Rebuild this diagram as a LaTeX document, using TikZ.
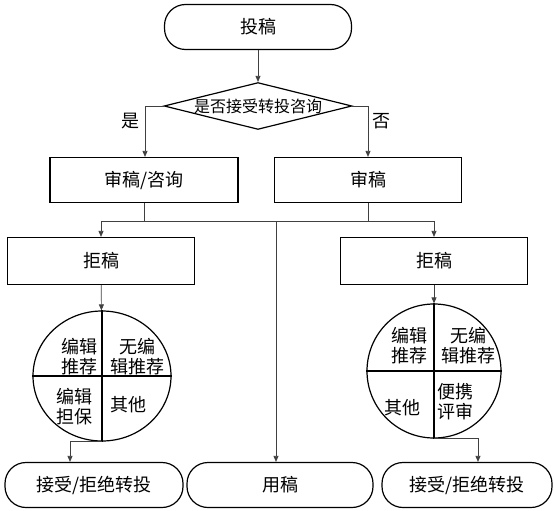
\documentclass[tikz,border=0pt]{standalone}
\usepackage{fontspec}
\newfontfamily\cjk{Noto Sans CJK SC}
\usepackage{tikz}
\usetikzlibrary{arrows.meta,shapes.geometric}

\tikzset{
  every node/.style={font=\cjk\fontsize{18}{20}\selectfont},
  term/.style={draw,line width=1.2pt,rounded corners=21pt,minimum height=45pt},
  procbox/.style={draw,line width=1.2pt,minimum width=187pt,minimum height=45pt},
  decide/.style={draw,line width=1.2pt,diamond,aspect=4,inner sep=0pt,
    font=\cjk\fontsize{16}{18}\selectfont},
  quad/.style={draw,line width=1.2pt,ellipse,inner sep=0pt},
  link/.style={draw=black!75,line width=0.7pt},
  arr/.style={link,-{Triangle[length=6pt,width=5pt]}}
}

\begin{document}
\begin{tikzpicture}[x=1pt,y=-1pt]
\useasboundingbox (0,0) rectangle (554,511);

% start and decision
\node[term,minimum width=187pt] (start) at (258,27) {投稿};
\node[decide] (ask) at (258,106) {是否接受转投咨询};
\node (yes) at (130,121) {是};
\node (no) at (381,121) {否};

% review
\node[procbox,minimum width=188pt] (revL) at (144,180) {审稿/咨询};
\node[procbox] (revR) at (368,180) {审稿};
\coordinate (bus) at (0,221);
\coordinate (mid) at (276,221);

% reject
\node[procbox,minimum height=47pt] (rejL) at (101,261) {拒稿};
\node[procbox,minimum height=47pt] (rejR) at (434,261) {拒稿};

% circles
\node[quad,minimum width=138pt,minimum height=130pt] (circL) at (102,376) {};
\node[quad,minimum width=134pt,minimum height=134pt] (circR) at (434,371) {};
\draw[line width=1.2pt] (circL.north) -- (circL.south) (circL.west) -- (circL.east);
\draw[line width=1.2pt] (circR.north) -- (circR.south) (circR.west) -- (circR.east);
\node[align=center] (l1) at (79,357) {编辑\\推荐};
\node[align=center] (l2) at (137,357) {无编\\辑推荐};
\node[align=center] (l3) at (74,407) {编辑\\担保};
\node (l4) at (128,405) {其他};
\node[align=center] (r1) at (409,346) {编辑\\推荐};
\node[align=center] (r2) at (468,346) {无编\\辑推荐};
\node (r3) at (402,408) {其他};
\node[align=center] (r4) at (455,402) {便携\\评审};

% outcomes
\node[term,minimum width=178pt] (outL) at (94,485) {接受/拒绝转投};
\node[term,minimum width=186pt] (outM) at (280,485) {用稿};
\node[term,minimum width=170pt] (outR) at (467,485) {接受/拒绝转投};

% connectors
\draw[arr] (start) -- (ask);
\draw[arr] (ask.west) -| ([xshift=1pt]revL.north);
\draw[arr] (ask.east) -| (revR.north);
\draw[link] (revL.south) -- (revL.south |- bus);
\draw[link] (revR.south) -- (revR.south |- bus);
\draw[link] (revL.south |- bus) -- (revR.south |- bus);
\draw[arr] (revL.south |- bus) -| (rejL.north);
\draw[arr] (revR.south |- bus) -| (rejR.north);
\draw[arr] (mid) -- (mid |- outM.north);
\draw[arr] (rejL) -- (circL);
\draw[arr] (rejR) -- (circR);
\draw[arr] (circL.south) -| ([xshift=-24pt]outL.north);
\draw[arr] (circR.south) -| ([xshift=11pt]outR.north);
\end{tikzpicture}
\end{document}
